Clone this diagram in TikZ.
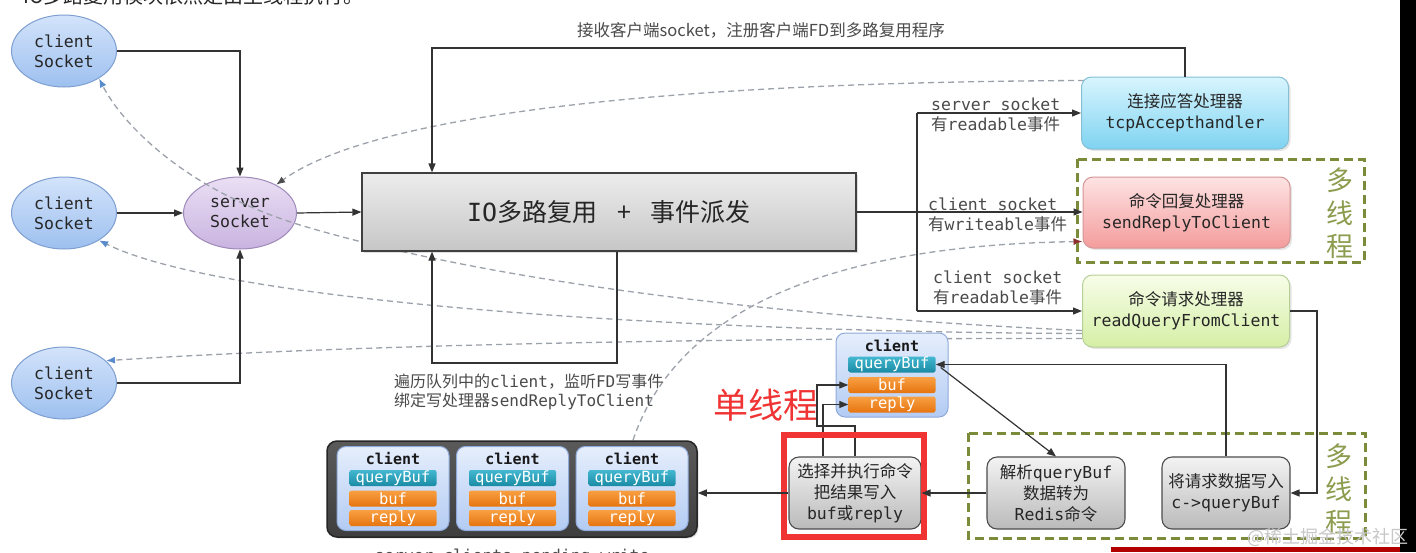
\documentclass[tikz,border=0pt]{standalone}
\usepackage{fontspec}
\setmainfont{DejaVu Sans Mono}
\newfontfamily\cjk{Noto Sans CJK SC}
\usetikzlibrary{arrows.meta,shapes.geometric,shadows}
\newcommand\zh[1]{{\cjk #1}}
\newcommand\fs[2]{\fontsize{#1}{#2}\selectfont}
\definecolor{socktop}{HTML}{D3E3FB}
\definecolor{sockbot}{HTML}{9DC0EF}
\definecolor{sockbd}{HTML}{7E9FD0}
\definecolor{svtop}{HTML}{EADFF4}
\definecolor{svbot}{HTML}{C9B3E0}
\definecolor{svbd}{HTML}{9E8AB8}
\definecolor{iotop}{HTML}{EDEDED}
\definecolor{iobot}{HTML}{C6C6C6}
\definecolor{tcptop}{HTML}{D8F5FE}
\definecolor{tcpbot}{HTML}{7FD3F1}
\definecolor{tcpbd}{HTML}{86BED4}
\definecolor{srtop}{HTML}{FEE3E3}
\definecolor{srbot}{HTML}{F49C9C}
\definecolor{srbd}{HTML}{D49696}
\definecolor{rqtop}{HTML}{F7FDE8}
\definecolor{rqbot}{HTML}{D5EFA6}
\definecolor{rqbd}{HTML}{B6CF96}
\definecolor{cmdtop}{HTML}{F3F3F3}
\definecolor{cmdbot}{HTML}{BABABA}
\definecolor{cbtop}{HTML}{E5EEFC}
\definecolor{cbbot}{HTML}{B3CBF3}
\definecolor{cbbd}{HTML}{8FAADA}
\definecolor{qtop}{HTML}{43B8D0}
\definecolor{qbot}{HTML}{1A8AA4}
\definecolor{otop}{HTML}{F9A043}
\definecolor{obot}{HTML}{E5740E}
\definecolor{conttop}{HTML}{5A5A5A}
\definecolor{contbot}{HTML}{3E3E3E}
\definecolor{olive}{HTML}{7A8B3A}
\definecolor{olivetxt}{HTML}{8C9C4E}
\definecolor{redmark}{HTML}{F03434}
\definecolor{dashgray}{HTML}{9CA2AA}
\definecolor{tipblue}{HTML}{5A8CCC}
\definecolor{tipred}{HTML}{8E2F2F}
\definecolor{lblgray}{HTML}{4A4A4A}
\pgfdeclarelayer{back}
\pgfdeclarelayer{dash}
\pgfsetlayers{back,dash,main}
\newcommand\clientset[3]{%
  \node[cbox] (#1) at (#2,#3) {};
  \node[ctitle] (#1t) at ([yshift=-13pt]#1.north) {client};
  \node[qbar] (#1q) at ([yshift=-32pt]#1.north) {queryBuf};
  \node[obar] (#1b) at ([yshift=-52.5pt]#1.north) {buf};
  \node[obar] (#1r) at ([yshift=-72pt]#1.north) {reply};
}
\begin{document}
\begin{tikzpicture}[x=1pt,y=-1pt,
  arr/.style={draw=black!80, line width=1.2pt, -{Triangle[length=9pt,width=7pt]}},
  ln/.style={draw=black!80, line width=1.2pt},
  dsh/.style={draw=dashgray, line width=1.3pt, dash pattern=on 6pt off 4pt},
  sock/.style={ellipse, draw=sockbd, line width=1pt, top color=socktop, bottom color=sockbot,
    minimum width=105pt, minimum height=72pt, inner sep=0pt, align=center, font=\fs{16.5}{20}, text=black!85},
  svsock/.style={sock, draw=svbd, top color=svtop, bottom color=svbot, minimum width=113pt},
  iobox/.style={draw=black!75, line width=1.2pt, top color=iotop, bottom color=iobot,
    minimum width=494pt, minimum height=78pt, inner sep=0pt, font=\fs{25}{28}, text=black!85,
    drop shadow={shadow xshift=2pt, shadow yshift=-2pt, opacity=0.25}},
  hbox/.style={rounded corners=10pt, line width=1pt, minimum width=207pt, minimum height=72pt,
    inner sep=0pt, align=center, font=\fs{16.5}{21}, text=black!85,
    drop shadow={shadow xshift=2pt, shadow yshift=-2pt, opacity=0.2}},
  cmd/.style={rounded corners=10pt, draw=black!70, line width=1.1pt, top color=cmdtop, bottom color=cmdbot,
    minimum height=72pt, inner sep=0pt, align=center, font=\fs{16.5}{21}, text=black!85},
  cbox/.style={draw=cbbd, line width=1pt, rounded corners=9pt, top color=cbtop, bottom color=cbbot,
    minimum width=112pt, minimum height=84pt, inner sep=0pt},
  ctitle/.style={font=\bfseries\fs{15}{17}, text=black!90, inner sep=0pt},
  qbar/.style={rounded corners=2pt, top color=qtop, bottom color=qbot, minimum width=87pt,
    minimum height=16pt, inner sep=0pt, text=white, font=\fs{15.5}{16}},
  obar/.style={qbar, top color=otop, bottom color=obot},
  lbl/.style={align=left, font=\fs{16.5}{20}, text=lblgray, inner sep=0pt},
  mt/.style={align=center, font=\cjk\fs{27}{33}, text=olivetxt, inner sep=0pt},
  gbox/.style={draw=olive, line width=3pt, dash pattern=on 9pt off 5pt}
]
\useasboundingbox (0,0) rectangle (1416,552);
\begin{pgfonlayer}{back}
  \fill[white] (0,0) rectangle (1416,552);
  \node[sock] (c1) at (64,51) {client\\Socket};
  \node[sock] (c2) at (64,213) {client\\Socket};
  \node[sock] (c3) at (64,383) {client\\Socket};
  \node[svsock] (sv) at (240,213) {server\\Socket};
\end{pgfonlayer}

% heading (cut off at top)
\node[anchor=west, font=\cjk\fs{20}{24}, text=black!85, inner sep=0pt] (head) at (23,-4) {IO多路复用模块依然是由主线程执行。};

% green dashed regions
\draw[gbox] (1077,159) rectangle (1364,262);
\draw[gbox] (968,433) rectangle (1365,538);

% main boxes
\node[iobox] (io) at (609,212) {IO\zh{多路复用\hspace{20pt}+\hspace{20pt}事件派发}};
\node[hbox, draw=tcpbd, top color=tcptop, bottom color=tcpbot] (tcp) at (1185,113) {\zh{连接应答处理器}\\tcpAccepthandler};
\node[hbox, draw=srbd, top color=srtop, bottom color=srbot, minimum height=71pt] (sr) at (1186.5,212.5) {\zh{命令回复处理器}\\sendReplyToClient};
\node[hbox, draw=rqbd, top color=rqtop, bottom color=rqbot] (rq) at (1186,311) {\zh{命令请求处理器}\\readQueryFromClient};

\node[mt] (mt1) at (1340,213) {多\\线\\程};
\node[mt] (mt2) at (1339,489) {多\\线\\程};

% command boxes
\node[cmd, minimum width=132pt] (xz) at (855,493) {\zh{选择并执行命令}\\\zh{把结果写入}\\buf\zh{或}reply};
\node[cmd, minimum width=138pt] (jx) at (1056,493) {\zh{解析}queryBuf\\\zh{数据转为}\\Redis\zh{命令}};
\node[cmd, minimum width=128pt] (qw) at (1226,493) {\zh{将请求数据写入}\\c->queryBuf};

% client structures
\clientset{cl}{892}{375}
\node[draw=black!85, line width=1.5pt, rounded corners=10pt, top color=conttop, bottom color=contbot,
  minimum width=370pt, minimum height=96pt, inner sep=0pt,
  drop shadow={shadow xshift=1.5pt, shadow yshift=-1.5pt, opacity=0.25}] (cont) at (512,489) {};
\clientset{k1}{393}{488.5}
\clientset{k2}{512.5}{488.5}
\clientset{k3}{632}{488.5}

% labels
\node[font=\cjk\fs{16.5}{20}, text=lblgray, inner sep=0pt] (ltop) at (761,30) {接收客户端socket，注册客户端FD到多路复用程序};
\node[lbl, anchor=west] (l1) at (931,115) {server socket\\\zh{有}readable\zh{事件}};
\node[lbl, anchor=west] (l2) at (928,215) {client socket\\\zh{有}writeable\zh{事件}};
\node[lbl, anchor=west] (l3) at (933,288) {client socket\\\zh{有}readable\zh{事件}};
\node[lbl, anchor=west, font=\fs{16}{18.5}] (lbot) at (394,392) {\zh{遍历队列中的}client\zh{，监听}FD\zh{写事件}\\\zh{绑定写处理器}sendReplyToClient};
\node[font=\cjk\fs{35}{38}, text=redmark, inner sep=0pt] (single) at (766,405) {单线程};
\node[anchor=base, font=\fs{16.3}{18}, text=lblgray, inner sep=0pt] (pend) at (512,561) {server.clients\_pending\_write};

% dashed connectors
\begin{pgfonlayer}{dash}
  \draw[dsh, -{Latex[length=9pt,width=7pt,color=black!70]}] ([xshift=3pt,yshift=-4pt]tcp.north west) .. controls (700,82) and (380,110) .. (sv.38);
  \draw[dsh, -{Latex[length=9pt,width=7pt,color=tipblue]}] ([yshift=17pt]rq.south west) .. controls (800,318) and (500,285) .. (300,225) .. controls (180,188) and (120,120) .. (c1.-38);
  \draw[dsh, -{Latex[length=9pt,width=7pt,color=tipblue]}] ([yshift=14pt]rq.south west) .. controls (700,332) and (230,305) .. (c2.-38);
  \draw[dsh, -{Latex[length=9pt,width=7pt,color=tipblue]}] ([yshift=9pt]rq.south west) .. controls (700,338) and (350,345) .. (c3.28);
  \draw[dsh, -{Latex[length=9pt,width=7pt,color=tipred]}] ([xshift=121pt]cont.north) .. controls (680,300) and (850,245) .. ([yshift=7pt]sr.south west);
\end{pgfonlayer}

% solid connectors
\draw[arr] (c1.east) -| (sv.north);
\draw[arr] (c2.east) -- (sv.west);
\draw[arr] (c3.east) -| (sv.south);
\draw[arr] (sv.east) -- (io.west);
\coordinate (topL) at (432,48);
\draw[arr] (tcp.north) |- (topL) -- (topL |- io.north);
\coordinate (botR) at (617,363);
\coordinate (botL) at (432,363);
\draw[arr] (botR |- io.south) -- (botR) -- (botL) -- (botL |- io.south);
\coordinate (bt) at (917,113);
\coordinate (bb) at (917,311);
\draw[ln] (bt) -- (bb);
\draw[arr] (bt) -- (tcp.west);
\draw[arr] (bb) -- (rq.west);
\draw[arr] (io.east) -- (io.east -| sr.west);
\coordinate (rqR) at (1317,493);
\draw[arr] (rq.east) -| (rqR) -- (qw.east);
\draw[arr] (qw.north) |- (clq.east);
\draw[arr] ([xshift=5pt,yshift=-3pt]clq.east) -- (jx.north);
\coordinate (pa) at (817,426);
\draw[arr] (xz.north) |- (pa) |- (clb.west);
\draw[arr] ([xshift=-32pt]xz.north) |- (clr.west);

% red highlight
\draw[redmark, line width=6pt] (784,435) rectangle (924,537);

\draw[arr] (jx.west) -- (xz.east);
\draw[arr] (xz.west) -- (xz.west -| cont.east);

% screenshot edges and watermark
\fill[black] (1400,0) rectangle (1416,552);
\fill[red!70!black] (1111,547) rectangle (1400,552);
\node[font=\cjk\fs{18}{20}, text=black!22, inner sep=0pt] (wm) at (1328,537) {@稀土掘金技术社区};
\end{tikzpicture}
\end{document}
